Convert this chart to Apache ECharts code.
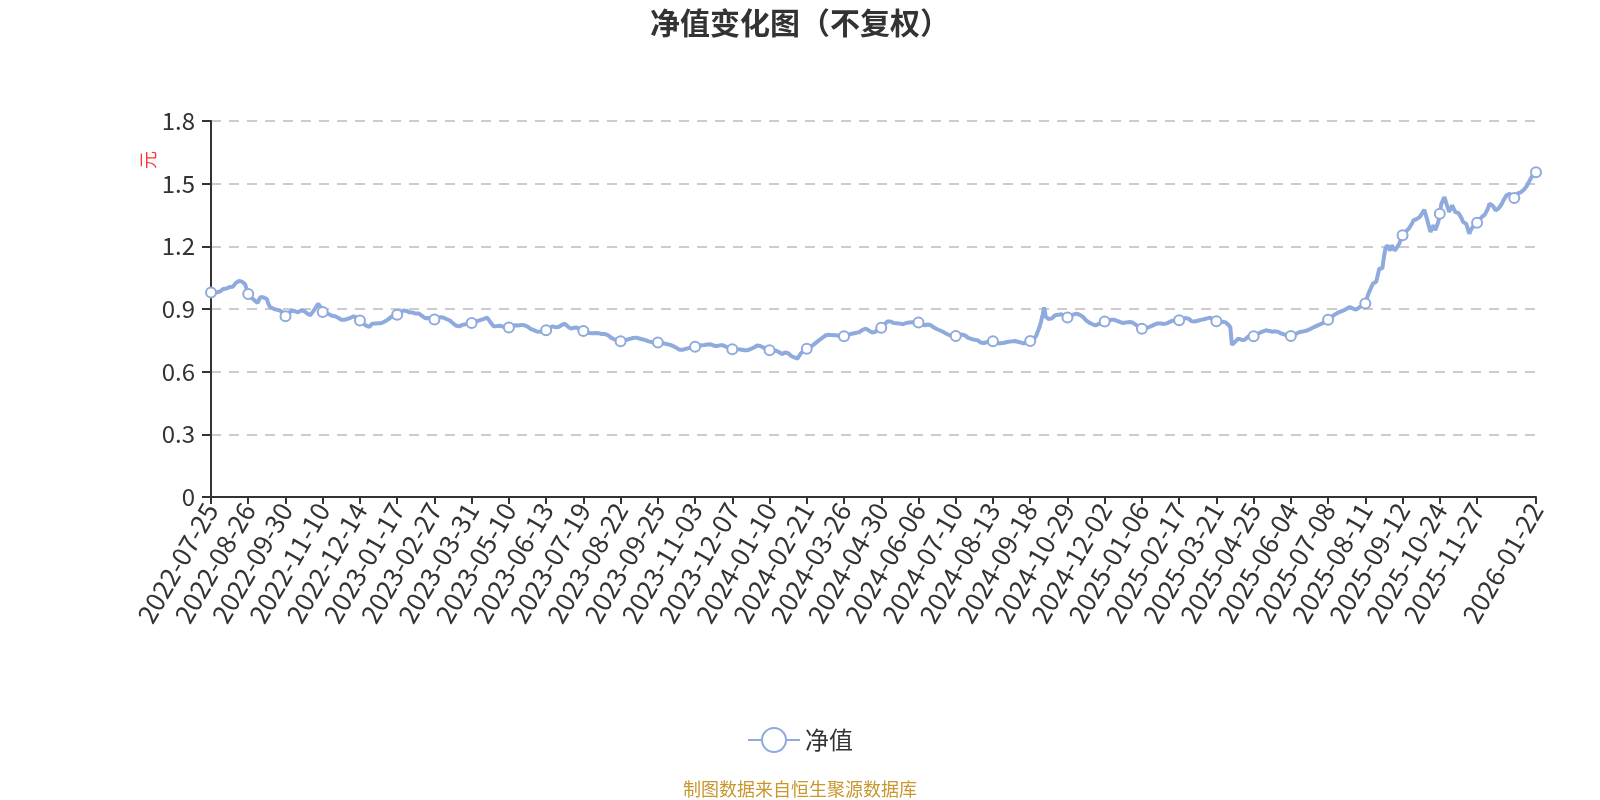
<!DOCTYPE html>
<html>
<head>
<meta charset="utf-8">
<script src="https://cdn.jsdelivr.net/npm/echarts@6/dist/echarts.min.js"></script>
<style>
html,body{margin:0;padding:0;background:#fff;}
#chart{width:1600px;height:800px;}
</style>
</head>
<body>
<div id="chart"></div>
<script>
// ---- categories: Chinese trading days + period-end NAV dates ----
const startDate = '2022-07-25';
const endDate = '2026-01-22';
const marketHolidays = [
  '2022-09-12','2022-10-03','2022-10-04','2022-10-05','2022-10-06','2022-10-07',
  '2023-01-02','2023-01-23','2023-01-24','2023-01-25','2023-01-26','2023-01-27','2023-04-05',
  '2023-05-01','2023-05-02','2023-05-03','2023-06-22','2023-06-23','2023-09-29',
  '2023-10-02','2023-10-03','2023-10-04','2023-10-05','2023-10-06',
  '2024-01-01','2024-02-09','2024-02-12','2024-02-13','2024-02-14','2024-02-15','2024-02-16',
  '2024-04-04','2024-04-05','2024-05-01','2024-05-02','2024-05-03','2024-06-10',
  '2024-09-16','2024-09-17','2024-10-01','2024-10-02','2024-10-03','2024-10-04','2024-10-07',
  '2025-01-01','2025-01-28','2025-01-29','2025-01-30','2025-01-31','2025-02-03','2025-02-04',
  '2025-04-04','2025-05-01','2025-05-02','2025-05-05','2025-06-02',
  '2025-10-01','2025-10-02','2025-10-03','2025-10-06','2025-10-07','2025-10-08',
  '2026-01-01','2026-01-02'
];
const periodEndDates = ['2022-12-31','2023-09-30','2023-12-31','2024-03-31','2024-06-30'];

// ---- series values (净值, 元) ----
const navPart1 = [
  0.979,0.982,0.978,0.975,0.980,0.984,0.985,0.990,0.996,1.000,0.998,1.003,1.005,1.001,1.006,1.015,1.025,1.028,1.034,1.026,1.031,1.033,1.018,0.994,
  0.972,0.963,0.955,0.948,0.942,0.935,0.929,0.945,0.958,0.961,0.955,0.962,0.948,0.925,0.910,0.905,0.902,0.899,0.897,0.898,0.894,0.890,0.885,0.876,
  0.865,0.872,0.880,0.888,0.892,0.894,0.890,0.886,0.884,0.886,0.893,0.891,0.891,0.885,0.878,0.872,0.870,0.880,0.890,0.894,0.912,0.926,0.918,0.905,
  0.886,0.884,0.880,0.877,0.875,0.872,0.868,0.866,0.865,0.862,0.858,0.852,0.848,0.846,0.848,0.851,0.853,0.854,0.858,0.862,0.865,0.862,0.858,0.850,
  0.845,0.838,0.832,0.826,0.820,0.816,0.814,0.822,0.830,0.833,0.831,0.829,0.832,0.834,0.833,0.836,0.840,0.845,0.849,0.855,0.861,0.865,0.868,0.870,
  0.872,0.878,0.884,0.889,0.893,0.894,0.891,0.887,0.884,0.885,0.883,0.880,0.878,0.879,0.878,0.873,0.867,0.861,0.856,0.854,0.857,0.855,0.852,0.850,
  0.850,0.853,0.857,0.860,0.861,0.862,0.858,0.854,0.851,0.850,0.845,0.838,0.831,0.825,0.820,0.818,0.817,0.820,0.824,0.826,0.827,0.829,0.831,0.832,
  0.833,0.836,0.838,0.841,0.843,0.846,0.848,0.850,0.853,0.857,0.859,0.850,0.838,0.830,0.818,0.811,0.818,0.822,0.820,0.817,0.816,0.815,0.813,0.812,
  0.811,0.814,0.818,0.821,0.822,0.823,0.821,0.822,0.824,0.823,0.822,0.822,0.816,0.810,0.805,0.801,0.799,0.795,0.792,0.790,0.791,0.793,0.795,0.797
];
const navPart2 = [
  0.798,0.803,0.808,0.813,0.817,0.815,0.813,0.811,0.814,0.818,0.823,0.827,0.830,0.824,0.816,0.810,0.806,0.808,0.810,0.812,0.811,0.806,0.801,0.797,
  0.795,0.792,0.789,0.787,0.785,0.786,0.784,0.786,0.785,0.783,0.784,0.782,0.780,0.781,0.780,0.779,0.774,0.768,0.762,0.758,0.755,0.752,0.750,0.748,
  0.746,0.748,0.750,0.751,0.753,0.754,0.757,0.759,0.761,0.762,0.763,0.761,0.759,0.757,0.755,0.754,0.751,0.748,0.745,0.743,0.742,0.741,0.742,0.741,
  0.740,0.739,0.737,0.736,0.735,0.733,0.732,0.731,0.728,0.725,0.722,0.719,0.714,0.709,0.705,0.703,0.705,0.707,0.709,0.711,0.713,0.714,0.716,0.718,
  0.719,0.721,0.723,0.725,0.727,0.726,0.728,0.729,0.730,0.729,0.731,0.728,0.725,0.723,0.722,0.724,0.726,0.725,0.727,0.723,0.719,0.715,0.712,0.709,
  0.707,0.708,0.707,0.706,0.707,0.706,0.705,0.704,0.703,0.702,0.703,0.706,0.709,0.711,0.716,0.721,0.725,0.727,0.723,0.719,0.716,0.712,0.708,0.705,
  0.703,0.702,0.701,0.700,0.701,0.700,0.694,0.689,0.684,0.688,0.692,0.695,0.688,0.681,0.675,0.671,0.668,0.665,0.663,0.674,0.686,0.695,0.701,0.706,
  0.710,0.714,0.719,0.723,0.727,0.733,0.739,0.745,0.751,0.757,0.762,0.767,0.773,0.779,0.777,0.776,0.775,0.774,0.774,0.772,0.773,0.771,0.770,0.771,
  0.770,0.773,0.776,0.778,0.780,0.782,0.783,0.784,0.786,0.785,0.790,0.795,0.800,0.804,0.806,0.802,0.797,0.792,0.788,0.785,0.790,0.796,0.801,0.806
];
const navPart3 = [
  0.810,0.818,0.826,0.834,0.840,0.843,0.840,0.836,0.833,0.830,0.832,0.834,0.830,0.828,0.827,0.830,0.833,0.836,0.835,0.833,0.836,0.838,0.836,0.835,
  0.835,0.832,0.828,0.825,0.822,0.824,0.826,0.827,0.822,0.816,0.811,0.806,0.803,0.800,0.797,0.793,0.790,0.786,0.782,0.778,0.774,0.773,0.772,0.771,
  0.771,0.773,0.775,0.777,0.778,0.779,0.774,0.768,0.762,0.758,0.757,0.755,0.753,0.752,0.751,0.746,0.740,0.735,0.737,0.739,0.741,0.740,0.742,0.744,
  0.746,0.743,0.740,0.737,0.735,0.736,0.737,0.739,0.740,0.742,0.743,0.744,0.745,0.746,0.747,0.745,0.743,0.741,0.739,0.737,0.735,0.738,0.741,0.744,
  0.747,0.748,0.752,0.760,0.774,0.795,0.814,0.840,0.872,0.908,0.862,0.868,0.852,0.846,0.855,0.863,0.870,0.868,0.872,0.874,0.875,0.870,0.866,0.862,
  0.859,0.862,0.866,0.870,0.874,0.877,0.878,0.875,0.872,0.870,0.862,0.854,0.846,0.838,0.835,0.831,0.828,0.825,0.822,0.825,0.828,0.831,0.834,0.837,
  0.840,0.842,0.844,0.846,0.848,0.849,0.849,0.846,0.843,0.840,0.837,0.835,0.833,0.834,0.836,0.837,0.838,0.838,0.835,0.830,0.825,0.820,0.815,0.810,
  0.806,0.807,0.809,0.811,0.812,0.814,0.818,0.821,0.825,0.828,0.831,0.833,0.831,0.829,0.828,0.827,0.831,0.835,0.839,0.843,0.844,0.845,0.845,0.846,
  0.846,0.849,0.852,0.855,0.857,0.859,0.854,0.848,0.842,0.838,0.840,0.842,0.844,0.846,0.848,0.849,0.851,0.853,0.855,0.857,0.859,0.854,0.849,0.844
];
const navPart4 = [
  0.841,0.843,0.840,0.842,0.839,0.838,0.836,0.830,0.822,0.812,0.729,0.727,0.742,0.750,0.758,0.756,0.753,0.752,0.751,0.758,0.765,0.770,0.774,0.772,
  0.770,0.774,0.778,0.782,0.786,0.790,0.793,0.796,0.798,0.797,0.795,0.793,0.791,0.790,0.793,0.795,0.790,0.786,0.782,0.780,0.778,0.776,0.774,0.772,
  0.771,0.774,0.777,0.781,0.784,0.787,0.790,0.792,0.793,0.795,0.796,0.798,0.802,0.806,0.810,0.814,0.817,0.820,0.824,0.827,0.830,0.835,0.840,0.845,
  0.849,0.853,0.860,0.866,0.872,0.878,0.881,0.884,0.887,0.890,0.893,0.897,0.901,0.905,0.910,0.906,0.902,0.899,0.897,0.902,0.907,0.912,0.916,0.921,
  0.926,0.950,0.974,0.990,1.008,1.022,1.026,1.030,1.062,1.093,1.090,1.095,1.150,1.190,1.205,1.192,1.181,1.205,1.192,1.180,1.190,1.197,1.215,1.236,
  1.253,1.262,1.270,1.278,1.285,1.292,1.308,1.324,1.327,1.330,1.332,1.340,1.348,1.362,1.375,1.350,1.324,1.295,1.269,1.288,1.301,1.277,1.296,1.316,
  1.356,1.404,1.420,1.436,1.410,1.388,1.365,1.380,1.396,1.380,1.364,1.368,1.360,1.356,1.335,1.316,1.312,1.308,1.285,1.260,1.278,1.290,1.301,1.308,
  1.313,1.322,1.330,1.340,1.348,1.352,1.356,1.380,1.404,1.400,1.396,1.384,1.372,1.378,1.383,1.388,1.404,1.420,1.432,1.444,1.448,1.452,1.446,1.438,
  1.431,1.442,1.452,1.460,1.458,1.462,1.470,1.476,1.488,1.502,1.516,1.530,1.540,1.548,1.555
];

// ---- axis ticks ----
const yTicks = { min: 0, max: 1.8, interval: 0.3 };
const labelEvery = 24;

// ---- text ----
const titleText = '净值变化图（不复权）';
const seriesName = '净值';
const unitText = '元';
const sourceText = '制图数据来自恒生聚源数据库';

function buildDates() {
  const out = [];
  const s = startDate.split('-').map(Number), e = endDate.split('-').map(Number);
  const t0 = Date.UTC(s[0], s[1] - 1, s[2]), t1 = Date.UTC(e[0], e[1] - 1, e[2]);
  for (let t = t0; t <= t1; t += 86400000) {
    const d = new Date(t);
    const str = d.toISOString().slice(0, 10);
    const wd = d.getUTCDay();
    if ((wd >= 1 && wd <= 5 && marketHolidays.indexOf(str) < 0) || periodEndDates.indexOf(str) >= 0) out.push(str);
  }
  return out;
}
const dates = buildDates();
const nav = navPart1.concat(navPart2, navPart3, navPart4);

const FONT = "'Noto Sans CJK SC', 'Noto Sans', sans-serif";
const lineColor = '#8FAADC';

const chart = echarts.init(document.getElementById('chart'));
chart.setOption({
  animation: false,
  backgroundColor: '#fff',
  textStyle: { fontFamily: FONT },
  title: {
    text: titleText, left: 'center', top: 3,
    textStyle: { fontSize: 30, fontWeight: 'bold', color: '#333', fontFamily: FONT }
  },
  legend: {
    data: [seriesName], left: 'center', top: 722,
    itemWidth: 52, itemHeight: 30, itemGap: 10,
    textStyle: { fontSize: 24, color: '#333', fontFamily: FONT }
  },
  grid: { left: 211, right: 64, top: 121, bottom: 303, containLabel: false },
  xAxis: {
    type: 'category', data: dates, boundaryGap: false,
    axisLine: { lineStyle: { color: '#333', width: 2 } },
    axisTick: { show: true, length: 7, interval: labelEvery - 1, lineStyle: { color: '#333', width: 2 } },
    axisLabel: {
      interval: labelEvery - 1, rotate: 60, fontSize: 26, color: '#333', margin: 8,
      showMaxLabel: true, fontFamily: FONT
    },
    splitLine: { show: false }
  },
  yAxis: {
    type: 'value', min: yTicks.min, max: yTicks.max, interval: yTicks.interval,
    axisLine: { show: true, lineStyle: { color: '#333', width: 2 } },
    axisTick: { show: true, length: 9, lineStyle: { color: '#333', width: 2 } },
    axisLabel: { fontSize: 24, color: '#333', margin: 16, fontFamily: FONT },
    splitLine: { show: true, lineStyle: { type: [10, 8], color: '#ccc', width: 2 } }
  },
  graphic: [
    {
      type: 'text', x: 148, y: 160, rotation: Math.PI / 2,
      style: { text: unitText, fontSize: 18, fill: '#FF3333', align: 'center', verticalAlign: 'middle', fontFamily: FONT }
    },
    {
      type: 'text', left: 'center', top: 780,
      style: { text: sourceText, fontSize: 18, fill: '#C9972E', fontFamily: FONT }
    }
  ],
  series: [{
    name: seriesName, type: 'line', data: nav,
    symbol: 'emptyCircle', symbolSize: 10, showSymbol: true,
    lineStyle: { width: 4, color: lineColor },
    itemStyle: { color: lineColor, borderWidth: 2 },
    emphasis: { disabled: true }
  }]
});
</script>
</body>
</html>
